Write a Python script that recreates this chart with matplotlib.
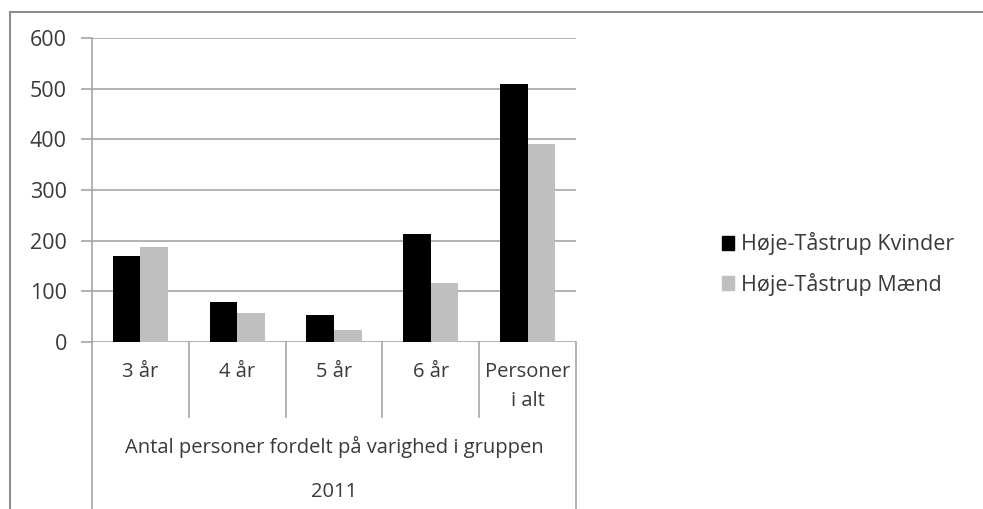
import matplotlib
matplotlib.use('Agg')
import matplotlib.pyplot as plt
from matplotlib.patches import Patch
from matplotlib.lines import Line2D
import numpy as np

plt.rcParams['font.family'] = ['Open Sans', 'DejaVu Sans']

# data
categories = ['3 år', '4 år', '5 år', '6 år', 'Personer\ni alt']
kvinder = [170, 78, 52, 212, 510]
maend = [188, 56, 24, 116, 390]
series_names = ['Høje-Tåstrup Kvinder', 'Høje-Tåstrup Mænd']
group_label = 'Antal personer fordelt på varighed i gruppen'
year_label = '2011'
yticks = [0, 100, 200, 300, 400, 500, 600]

text_col = '#3a3a3a'
line_col = '#a6a6a6'
fs = 14.5

fig = plt.figure(figsize=(9.83, 5.09), dpi=100)
W, H = 983, 509
left, right, top, bottom = 92, 576, 38.3, 341.7
ax = fig.add_axes([left / W, 1 - bottom / H, (right - left) / W, (bottom - top) / H])

x = np.arange(len(categories))
bw = 0.285
ax.bar(x - bw / 2, kvinder, bw, color='black', zorder=3)
ax.bar(x + bw / 2, maend, bw, color='#bfbfbf', zorder=3)

ax.set_xlim(-0.5, len(categories) - 0.5)
ax.set_ylim(0, 600)
ax.set_yticks(yticks)
ax.set_yticklabels([str(v) for v in yticks], color=text_col, fontsize=15.5)
ax.tick_params(axis='y', length=8, width=1.2, color=line_col, pad=10, direction='out')
ax.set_xticks([])
ax.yaxis.grid(True, color=line_col, linewidth=1.2, zorder=0)
for s in ['top', 'right', 'bottom']:
    ax.spines[s].set_visible(False)
ax.spines['left'].set_color(line_col)
ax.spines['left'].set_linewidth(1.2)

# category area below axis
ph = bottom - top
def yfrac(py):
    return (bottom - py) / ph

tr = ax.get_xaxis_transform()
line_kw = dict(color=line_col, linewidth=1.2, transform=tr, clip_on=False)
ax.add_line(Line2D([-0.5, -0.5], [yfrac(509), 0], **line_kw))
ax.add_line(Line2D([4.5, 4.5], [yfrac(509), 0], **line_kw))
for b in np.arange(0.5, len(categories) - 1, 1.0):
    ax.add_line(Line2D([b, b], [yfrac(417), 0], **line_kw))

for i, c in enumerate(categories):
    for j, part in enumerate(c.split('\n')):
        ax.text(i, yfrac(372 + 29 * j), part, transform=tr, ha='center',
                va='center', color=text_col, fontsize=fs)
ax.text(2, yfrac(447), group_label, transform=tr, ha='center', va='center',
        color=text_col, fontsize=fs)
ax.text(2, yfrac(492), year_label, transform=tr, ha='center', va='center',
        color=text_col, fontsize=fs)

# chart border (left and top visible)
fig.add_artist(Line2D([10 / W, 10 / W], [0, 1 - 12 / H], color='#8c8c8c',
                      linewidth=1.5, transform=fig.transFigure))
fig.add_artist(Line2D([10 / W, 1], [1 - 12 / H, 1 - 12 / H], color='#8c8c8c',
                      linewidth=1.5, transform=fig.transFigure))

handles = [Patch(color='black'), Patch(color='#bfbfbf')]
leg = fig.legend(handles, series_names, loc='center left',
                 bbox_to_anchor=(703 / W, 1 - 264 / H), frameon=False,
                 fontsize=15.5, handlelength=0.55, handleheight=0.6,
                 handletextpad=0.3, labelspacing=0.8)
for t in leg.get_texts():
    t.set_color(text_col)

fig.savefig('out.png', dpi=100)
